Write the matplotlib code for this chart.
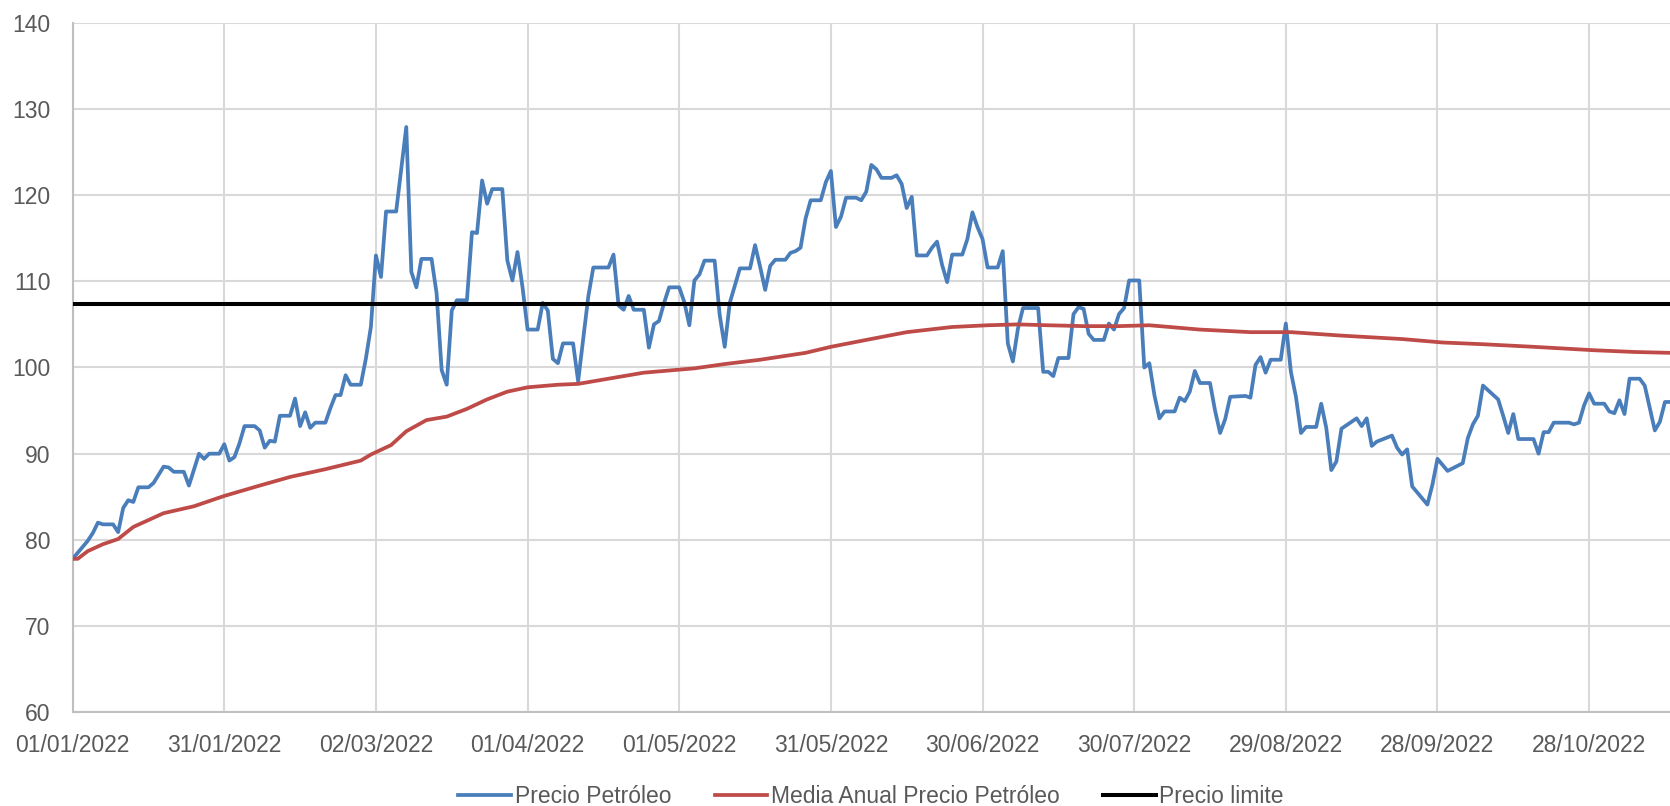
from __future__ import annotations

import matplotlib

matplotlib.use("Agg")

import matplotlib.dates as mdates
import matplotlib.pyplot as plt
import pandas as pd


START_DATE = "2022-01-01"
END_DAY = 316
PRECIO_LIMITE = 107.4

# days since 01/01/2022 and price
precio_dias = [
    0, 3, 4, 5, 6, 8, 9, 10, 11, 12, 13, 15, 16, 18, 19, 20, 22, 23, 25, 26,
    27, 29, 30, 31, 32, 33, 34, 36, 37, 38, 39, 40, 41, 43, 44, 45, 46, 47, 48, 50,
    51, 52, 53, 54, 55, 57, 58, 59, 60, 61, 62, 64, 66, 67, 68, 69, 71, 72, 73, 74,
    75, 76, 78, 79, 80, 81, 82, 83, 85, 86, 87, 88, 89, 90, 92, 93, 94, 95, 96, 97,
    99, 100, 101, 102, 103, 106, 107, 108, 109, 110, 111, 113, 114, 115, 116, 117, 118, 120, 121, 122,
    123, 124, 125, 127, 128, 129, 130, 132, 134, 135, 136, 137, 138, 139, 141, 142, 143, 144, 145, 146,
    148, 149, 150, 151, 152, 153, 155, 156, 157, 158, 159, 160, 162, 163, 164, 165, 166, 167, 169, 170,
    171, 172, 173, 174, 176, 177, 178, 179, 180, 181, 183, 184, 185, 186, 187, 188, 191, 192, 193, 194,
    195, 197, 198, 199, 200, 201, 202, 204, 205, 206, 207, 208, 209, 211, 212, 213, 214, 215, 216, 218,
    219, 220, 221, 222, 223, 225, 226, 227, 228, 229, 232, 233, 234, 235, 236, 237, 239, 240, 241, 242,
    243, 244, 246, 247, 248, 249, 250, 251, 254, 255, 256, 257, 258, 261, 262, 263, 264, 265, 268, 269,
    270, 272, 275, 276, 277, 278, 279, 282, 283, 284, 285, 286, 289, 290, 291, 292, 293, 296, 297, 298,
    299, 300, 301, 303, 304, 305, 306, 307, 308, 310, 311, 313, 314, 315, 316,
]
precio_valores = [
    77.8, 79.9, 80.8, 82.0, 81.8, 81.8, 80.9, 83.7, 84.6, 84.4, 86.1, 86.1, 86.6, 88.5, 88.4, 87.9, 87.9, 86.3, 90.0, 89.4,
    90.0, 90.0, 91.1, 89.2, 89.6, 91.2, 93.2, 93.2, 92.7, 90.7, 91.5, 91.4, 94.4, 94.4, 96.4, 93.2, 94.8, 93.0, 93.6, 93.6,
    95.3, 96.8, 96.8, 99.1, 98.0, 98.0, 101.0, 104.7, 113.0, 110.5, 118.1, 118.1, 127.9, 111.1, 109.3, 112.6, 112.6, 108.6, 99.7, 98.0,
    106.6, 107.8, 107.8, 115.7, 115.6, 121.7, 119.0, 120.7, 120.7, 112.4, 110.1, 113.4, 109.3, 104.4, 104.4, 107.5, 106.6, 101.0, 100.5, 102.8,
    102.8, 98.4, 103.3, 108.2, 111.6, 111.6, 113.1, 107.2, 106.7, 108.3, 106.7, 106.7, 102.3, 105.0, 105.4, 107.5, 109.3, 109.3, 107.6, 104.9,
    110.1, 110.8, 112.4, 112.4, 106.1, 102.4, 107.5, 111.5, 111.5, 114.2, 111.7, 109.0, 111.8, 112.5, 112.5, 113.3, 113.5, 113.9, 117.3, 119.4,
    119.4, 121.5, 122.8, 116.3, 117.5, 119.7, 119.7, 119.4, 120.4, 123.5, 123.0, 122.0, 122.0, 122.3, 121.3, 118.5, 119.8, 113.0, 113.0, 113.9,
    114.6, 111.9, 109.9, 113.1, 113.1, 114.9, 118.0, 116.3, 114.9, 111.6, 111.6, 113.5, 102.8, 100.7, 104.5, 106.9, 106.9, 99.5, 99.5, 99.0,
    101.1, 101.1, 106.2, 107.0, 106.8, 103.9, 103.2, 103.2, 105.1, 104.4, 106.2, 106.9, 110.1, 110.1, 100.0, 100.5, 96.8, 94.1, 94.9, 94.9,
    96.5, 96.1, 97.2, 99.6, 98.2, 98.2, 95.0, 92.4, 94.0, 96.6, 96.7, 96.5, 100.3, 101.2, 99.4, 100.9, 100.9, 105.1, 99.5, 96.6,
    92.4, 93.1, 93.1, 95.8, 93.0, 88.1, 89.1, 92.9, 94.1, 93.2, 94.1, 90.9, 91.4, 92.1, 90.7, 89.9, 90.5, 86.2, 84.1, 86.4,
    89.4, 88.0, 88.9, 91.8, 93.4, 94.4, 97.9, 96.3, 94.4, 92.4, 94.6, 91.7, 91.7, 90.0, 92.5, 92.5, 93.6, 93.6, 93.4, 93.6,
    95.6, 97.0, 95.8, 95.8, 94.9, 94.7, 96.2, 94.6, 98.7, 98.7, 97.9, 92.7, 93.7, 96.0, 96.0,
]

media_dias = [
    0, 1, 3, 6, 9, 12, 18, 24, 30, 37, 43, 50, 57, 59, 63, 66, 70, 74, 78, 82,
    86, 90, 96, 100, 102, 108, 113, 123, 129, 136, 145, 150, 157, 165, 174, 181, 187, 193, 200, 207,
    213, 223, 233, 241, 251, 263, 271, 279, 289, 301, 309, 316,
]
media_valores = [
    77.8, 77.8, 78.7, 79.5, 80.1, 81.5, 83.1, 83.9, 85.1, 86.3, 87.3, 88.2, 89.2, 89.9, 91.0, 92.6, 93.9, 94.3, 95.2, 96.3,
    97.2, 97.7, 98.0, 98.1, 98.3, 98.9, 99.4, 99.9, 100.4, 100.9, 101.7, 102.4, 103.2, 104.1, 104.7, 104.9, 105.0, 104.9, 104.8, 104.8,
    104.9, 104.4, 104.1, 104.1, 103.7, 103.3, 102.9, 102.7, 102.4, 102.0, 101.8, 101.7,
]

y_ticks = [60, 70, 80, 90, 100, 110, 120, 130, 140]

TEXT_COLOR = "#595959"
GRID_COLOR = "#d9d9d9"
AXIS_COLOR = "#bfbfbf"
BLUE = "#4a7ebb"
RED = "#be4b48"


def _to_dates(days: list[int]) -> pd.DatetimeIndex:
    return pd.Timestamp(START_DATE) + pd.to_timedelta(days, unit="D")


def plot_precio_petroleo(output_path: str) -> None:
    plt.rcParams["font.family"] = ["Liberation Sans", "DejaVu Sans"]

    start = pd.Timestamp(START_DATE)
    end = start + pd.Timedelta(days=END_DAY)

    fig = plt.figure(figsize=(16.7, 8.06), dpi=100)
    ax = fig.add_axes([0.0435, 0.1163, 0.9565, 0.8555])

    ax.plot(_to_dates(precio_dias), precio_valores, color=BLUE, lw=2.7,
            label="Precio Petróleo", solid_joinstyle="round", zorder=3)
    ax.plot(_to_dates(media_dias), media_valores, color=RED, lw=2.7,
            label="Media Anual Precio Petróleo", solid_joinstyle="round", zorder=3)
    ax.plot([start, end], [PRECIO_LIMITE, PRECIO_LIMITE], color="black", lw=2.9,
            label="Precio limite", zorder=4)

    ax.set_xlim(start, end)
    ax.set_ylim(60, 140)
    ax.set_yticks(y_ticks)

    ticks = pd.date_range(start, end, freq="30D")
    ax.set_xticks(ticks)
    ax.xaxis.set_major_formatter(mdates.DateFormatter("%d/%m/%Y"))

    ax.grid(True, color=GRID_COLOR, lw=1.5, zorder=0)
    ax.set_axisbelow(True)
    for side in ["top", "right"]:
        ax.spines[side].set_visible(False)
    for side in ["left", "bottom"]:
        ax.spines[side].set_color(AXIS_COLOR)
        ax.spines[side].set_linewidth(1.5)

    ax.tick_params(axis="both", length=0, labelsize=16.5, colors=TEXT_COLOR)
    ax.tick_params(axis="y", pad=16)
    ax.tick_params(axis="x", pad=16)

    fig.legend(
        loc="center",
        bbox_to_anchor=(0.5216, 0.012),
        ncol=3,
        frameon=False,
        fontsize=16.5,
        labelcolor=TEXT_COLOR,
        handlelength=2.3,
        handletextpad=0.15,
        columnspacing=1.9,
    )

    fig.savefig(output_path, dpi=100)
    plt.close(fig)


if __name__ == "__main__":
    plot_precio_petroleo("out.png")
